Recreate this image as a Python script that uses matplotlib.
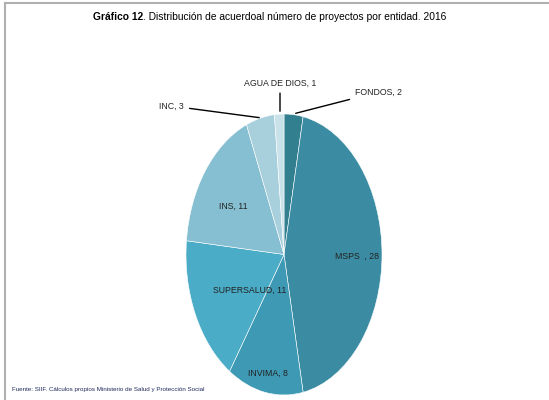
import matplotlib.pyplot as plt
from matplotlib.lines import Line2D

# datos
entidades = ['FONDOS', 'MSPS', 'INVIMA', 'SUPERSALUD', 'INS', 'INC', 'AGUA DE DIOS']
proyectos = [2, 28, 8, 11, 11, 3, 1]
etiquetas = ['FONDOS, 2', 'MSPS  , 28', 'INVIMA, 8', 'SUPERSALUD, 11', 'INS, 11', 'INC, 3', 'AGUA DE DIOS, 1']
colores = ['#317f8f', '#3b8ca2', '#3e9ab4', '#4aacc6', '#86bfd1', '#a8cfdc', '#c9e1e8']

fuente = ['Liberation Sans']

fig = plt.figure(figsize=(5.49, 4.0), dpi=100)

# marco gris (arriba e izquierda)
fig.add_artist(Line2D([5 / 549, 1], [1 - 3 / 400, 1 - 3 / 400], color='#b0b0b0', lw=1.5, transform=fig.transFigure))
fig.add_artist(Line2D([5 / 549, 5 / 549], [0, 1 - 3 / 400], color='#b0b0b0', lw=1.5, transform=fig.transFigure))

# pie elíptico
ax = fig.add_axes([186 / 549, 5 / 400, 196 / 549, 281 / 400])
ax.pie(proyectos, colors=colores, startangle=90, counterclock=False,
       wedgeprops=dict(edgecolor='white', linewidth=0.4))
ax.set_aspect('auto')
ax.set_xlim(-1, 1)
ax.set_ylim(-1, 1)
ax.axis('off')


def pos(px, py):
    return ((px - 284) / 98, (254.5 - py) / 140.5)


# etiquetas internas
internas = {1: (357, 256), 2: (268, 373), 3: (250, 290), 4: (233, 206)}
for i, (px, py) in internas.items():
    ax.text(*pos(px, py), etiquetas[i], ha='center', va='center', fontsize=6.3,
            family=fuente, color='#222222')

# etiquetas externas con líneas guía
kw = dict(fontsize=6.3, family=fuente, color='#222222', annotation_clip=False,
          arrowprops=dict(arrowstyle='-', color='black', lw=1))
ax.annotate(etiquetas[0], xy=pos(293, 114), xytext=pos(355, 92), ha='left', va='center', **kw)
ax.annotate(etiquetas[6], xy=pos(280, 114), xytext=pos(280, 83), ha='center', va='center', **kw)
ax.annotate(etiquetas[5], xy=pos(262, 118), xytext=pos(184, 106), ha='right', va='center', **kw)

# título, centrado en x ~ 270 px
yt = 1 - 17 / 400
t1 = fig.text(0, yt, 'Gráfico 12', fontsize=7.4, fontweight='bold',
              family=fuente, ha='left', va='center')
t2 = fig.text(0, yt, '. Distribución de acuerdoal número de proyectos por entidad. 2016',
              fontsize=7.4, family=fuente, ha='left', va='center')
fig.canvas.draw()
w1 = t1.get_window_extent().width
w2 = t2.get_window_extent().width
x0 = 270 - (w1 + w2) / 2
t1.set_x(x0 / 549)
t2.set_x((x0 + w1) / 549)

fig.text(12 / 549, 1 - 390 / 400,
         'Fuente: SIIF. Cálculos propios Ministerio de Salud y Protección Social',
         fontsize=4.5, family=fuente, color='#1f2a5a', ha='left', va='center')

plt.savefig('out.png', dpi=100)
